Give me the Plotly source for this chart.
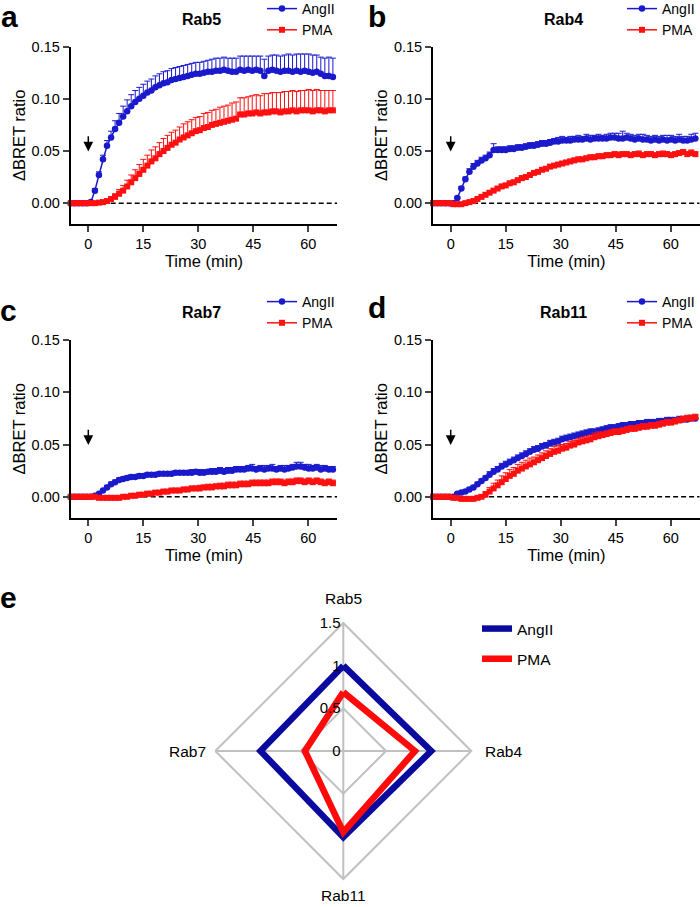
import plotly.graph_objects as go

# ---------------- data ----------------
time_min = [
    -4.8, -3.7, -2.6, -1.5, -0.4, 0.7, 1.8, 2.9, 4.0, 5.1, 6.2,
    7.3, 8.4, 9.5, 10.6, 11.7, 12.8, 13.9, 15.0, 16.1, 17.2, 18.3,
    19.4, 20.5, 21.6, 22.7, 23.8, 24.9, 26.0, 27.1, 28.2, 29.3, 30.4,
    31.5, 32.6, 33.7, 34.8, 35.9, 37.0, 38.1, 39.2, 40.3, 41.4, 42.5,
    43.6, 44.7, 45.8, 46.9, 48.0, 49.1, 50.2, 51.3, 52.4, 53.5, 54.6,
    55.7, 56.8, 57.9, 59.0, 60.1, 61.2, 62.3, 63.4, 64.5, 65.6, 66.7,
]

# Rab5
rab5_angii = [
    0.000, 0.000, 0.000, 0.000, 0.000, 0.001, 0.012, 0.027, 0.042, 0.055, 0.063,
    0.071, 0.077, 0.083, 0.088, 0.093, 0.097, 0.100, 0.103, 0.106, 0.108, 0.111,
    0.113, 0.115, 0.116, 0.118, 0.119, 0.120, 0.121, 0.122, 0.123, 0.124, 0.124,
    0.125, 0.126, 0.126, 0.127, 0.127, 0.128, 0.127, 0.126, 0.126, 0.128, 0.127,
    0.128, 0.127, 0.128, 0.127, 0.122, 0.127, 0.128, 0.127, 0.126, 0.127, 0.127,
    0.126, 0.127, 0.126, 0.127, 0.126, 0.125, 0.126, 0.124, 0.122, 0.122, 0.121,
]
rab5_angii_sem = [
    0.000, 0.000, 0.000, 0.000, 0.000, 0.001, 0.002, 0.003, 0.004, 0.005, 0.006,
    0.008, 0.009, 0.010, 0.011, 0.011, 0.011, 0.011, 0.011, 0.011, 0.011, 0.011,
    0.011, 0.011, 0.011, 0.011, 0.011, 0.011, 0.011, 0.011, 0.011, 0.011, 0.011,
    0.011, 0.011, 0.012, 0.012, 0.012, 0.012, 0.012, 0.013, 0.013, 0.013, 0.014,
    0.013, 0.014, 0.013, 0.014, 0.016, 0.014, 0.014, 0.015, 0.015, 0.015, 0.016,
    0.016, 0.016, 0.017, 0.016, 0.017, 0.017, 0.016, 0.016, 0.017, 0.018, 0.018,
]
rab5_pma = [
    0.000, 0.000, 0.000, 0.000, 0.000, 0.000, 0.000, 0.0005, 0.001, 0.002, 0.004,
    0.006, 0.009, 0.012, 0.016, 0.020, 0.024, 0.028, 0.032, 0.036, 0.040, 0.043,
    0.047, 0.050, 0.053, 0.056, 0.058, 0.061, 0.063, 0.065, 0.067, 0.069, 0.070,
    0.072, 0.073, 0.075, 0.076, 0.077, 0.078, 0.079, 0.080, 0.081, 0.085, 0.085,
    0.086, 0.086, 0.087, 0.086, 0.087, 0.087, 0.088, 0.088, 0.087, 0.088, 0.088,
    0.089, 0.088, 0.089, 0.089, 0.089, 0.088, 0.089, 0.089, 0.088, 0.089, 0.089,
]
rab5_pma_sem = [
    0.000, 0.000, 0.000, 0.000, 0.000, 0.000, 0.000, 0.000, 0.001, 0.001, 0.002,
    0.003, 0.004, 0.005, 0.006, 0.007, 0.008, 0.009, 0.010, 0.010, 0.011, 0.011,
    0.011, 0.012, 0.012, 0.012, 0.012, 0.012, 0.013, 0.013, 0.013, 0.013, 0.013,
    0.014, 0.014, 0.014, 0.014, 0.015, 0.015, 0.015, 0.016, 0.016, 0.016, 0.016,
    0.016, 0.017, 0.017, 0.017, 0.018, 0.018, 0.018, 0.018, 0.019, 0.019, 0.019,
    0.019, 0.019, 0.019, 0.019, 0.020, 0.020, 0.020, 0.019, 0.020, 0.019, 0.019,
]

# Rab4
rab4_angii = [
    0.000, 0.000, 0.000, 0.000, 0.000, 0.000, 0.005, 0.014, 0.023, 0.030, 0.035,
    0.038, 0.041, 0.043, 0.046, 0.051, 0.051, 0.051, 0.051, 0.052, 0.052, 0.053,
    0.053, 0.054, 0.055, 0.055, 0.056, 0.057, 0.057, 0.058, 0.059, 0.059, 0.060,
    0.060, 0.060, 0.061, 0.061, 0.061, 0.062, 0.061, 0.062, 0.062, 0.062, 0.062,
    0.063, 0.063, 0.062, 0.062, 0.063, 0.062, 0.061, 0.062, 0.061, 0.061, 0.060,
    0.061, 0.060, 0.061, 0.060, 0.061, 0.060, 0.061, 0.060, 0.060, 0.061, 0.062,
]
rab4_angii_sem = [
    0.000, 0.000, 0.000, 0.000, 0.000, 0.000, 0.001, 0.002, 0.002, 0.003, 0.003,
    0.003, 0.003, 0.003, 0.003, 0.006, 0.003, 0.003, 0.003, 0.003, 0.003, 0.003,
    0.003, 0.003, 0.003, 0.003, 0.003, 0.003, 0.003, 0.003, 0.003, 0.004, 0.004,
    0.003, 0.004, 0.003, 0.004, 0.003, 0.004, 0.004, 0.003, 0.004, 0.003, 0.004,
    0.004, 0.004, 0.005, 0.007, 0.004, 0.004, 0.004, 0.004, 0.005, 0.004, 0.004,
    0.004, 0.004, 0.004, 0.005, 0.004, 0.004, 0.005, 0.004, 0.004, 0.005, 0.005,
]
rab4_pma = [
    0.000, 0.000, 0.000, 0.000, 0.000, -0.001, -0.001, -0.001, 0.000, 0.001, 0.002,
    0.004, 0.006, 0.008, 0.010, 0.012, 0.014, 0.016, 0.017, 0.019, 0.020, 0.022,
    0.024, 0.025, 0.027, 0.029, 0.030, 0.032, 0.033, 0.035, 0.036, 0.037, 0.038,
    0.039, 0.040, 0.041, 0.042, 0.042, 0.043, 0.044, 0.044, 0.045, 0.045, 0.046,
    0.046, 0.047, 0.046, 0.047, 0.047, 0.046, 0.047, 0.047, 0.046, 0.047, 0.047,
    0.046, 0.047, 0.047, 0.047, 0.046, 0.047, 0.048, 0.049, 0.047, 0.048, 0.047,
]
rab4_pma_sem = [
    0.000, 0.000, 0.000, 0.000, 0.000, 0.000, 0.000, 0.001, 0.001, 0.001, 0.001,
    0.001, 0.001, 0.002, 0.002, 0.002, 0.002, 0.002, 0.002, 0.002, 0.002, 0.002,
    0.002, 0.002, 0.002, 0.002, 0.002, 0.002, 0.002, 0.002, 0.002, 0.002, 0.002,
    0.002, 0.002, 0.002, 0.002, 0.002, 0.002, 0.002, 0.002, 0.002, 0.002, 0.002,
    0.002, 0.002, 0.003, 0.002, 0.002, 0.002, 0.002, 0.003, 0.002, 0.002, 0.002,
    0.002, 0.002, 0.003, 0.002, 0.002, 0.002, 0.002, 0.002, 0.002, 0.003, 0.002,
]

# Rab7
rab7_angii = [
    0.000, 0.000, 0.000, 0.000, 0.000, 0.000, 0.001, 0.003, 0.006, 0.009, 0.012,
    0.014, 0.016, 0.017, 0.018, 0.019, 0.019, 0.020, 0.020, 0.021, 0.021, 0.021,
    0.022, 0.022, 0.022, 0.022, 0.023, 0.023, 0.023, 0.023, 0.023, 0.024, 0.023,
    0.023, 0.024, 0.024, 0.024, 0.025, 0.024, 0.025, 0.025, 0.026, 0.026, 0.026,
    0.027, 0.027, 0.026, 0.027, 0.026, 0.027, 0.027, 0.026, 0.027, 0.026, 0.027,
    0.028, 0.029, 0.029, 0.028, 0.027, 0.027, 0.028, 0.026, 0.027, 0.026, 0.026,
]
rab7_angii_sem = [
    0.000, 0.000, 0.000, 0.000, 0.000, 0.000, 0.000, 0.001, 0.001, 0.002, 0.002,
    0.002, 0.002, 0.002, 0.002, 0.002, 0.002, 0.002, 0.002, 0.002, 0.002, 0.002,
    0.002, 0.002, 0.002, 0.002, 0.002, 0.002, 0.002, 0.002, 0.003, 0.002, 0.003,
    0.003, 0.002, 0.003, 0.003, 0.003, 0.003, 0.003, 0.003, 0.003, 0.003, 0.003,
    0.003, 0.004, 0.003, 0.003, 0.004, 0.003, 0.004, 0.003, 0.003, 0.004, 0.003,
    0.003, 0.004, 0.004, 0.003, 0.004, 0.003, 0.003, 0.004, 0.003, 0.003, 0.003,
]
rab7_pma = [
    0.000, 0.000, 0.000, 0.000, 0.000, 0.000, 0.000, -0.001, -0.001, -0.001, -0.001,
    -0.001, -0.001, 0.000, 0.000, 0.001, 0.001, 0.002, 0.002, 0.003, 0.003, 0.004,
    0.004, 0.005, 0.005, 0.006, 0.006, 0.006, 0.007, 0.007, 0.008, 0.008, 0.008,
    0.009, 0.009, 0.009, 0.010, 0.010, 0.010, 0.011, 0.011, 0.011, 0.012, 0.012,
    0.012, 0.013, 0.013, 0.013, 0.013, 0.013, 0.014, 0.014, 0.014, 0.013, 0.014,
    0.014, 0.015, 0.015, 0.014, 0.015, 0.014, 0.015, 0.014, 0.013, 0.014, 0.013,
]
rab7_pma_sem = [
    0.000, 0.000, 0.000, 0.000, 0.000, 0.000, 0.000, 0.001, 0.001, 0.001, 0.001,
    0.001, 0.001, 0.001, 0.002, 0.002, 0.002, 0.002, 0.002, 0.002, 0.002, 0.002,
    0.002, 0.002, 0.002, 0.002, 0.002, 0.002, 0.002, 0.002, 0.002, 0.002, 0.003,
    0.002, 0.003, 0.003, 0.002, 0.003, 0.003, 0.003, 0.003, 0.003, 0.003, 0.003,
    0.003, 0.003, 0.003, 0.003, 0.003, 0.003, 0.003, 0.003, 0.003, 0.003, 0.003,
    0.003, 0.003, 0.003, 0.003, 0.003, 0.003, 0.003, 0.003, 0.003, 0.003, 0.003,
]

# Rab11
rab11_angii = [
    0.000, 0.000, 0.000, 0.000, 0.000, 0.000, 0.003, 0.004, 0.005, 0.007, 0.009,
    0.012, 0.015, 0.018, 0.021, 0.024, 0.026, 0.029, 0.031, 0.033, 0.035, 0.037,
    0.039, 0.041, 0.043, 0.045, 0.046, 0.048, 0.049, 0.051, 0.052, 0.053, 0.055,
    0.056, 0.057, 0.058, 0.059, 0.060, 0.061, 0.062, 0.062, 0.063, 0.064, 0.065,
    0.066, 0.066, 0.067, 0.068, 0.068, 0.069, 0.069, 0.070, 0.070, 0.071, 0.071,
    0.071, 0.072, 0.072, 0.073, 0.073, 0.073, 0.074, 0.074, 0.074, 0.075, 0.075,
]
rab11_angii_sem = [
    0.000, 0.000, 0.000, 0.000, 0.000, 0.000, 0.001, 0.001, 0.001, 0.002, 0.002,
    0.002, 0.002, 0.002, 0.003, 0.003, 0.003, 0.003, 0.003, 0.003, 0.003, 0.003,
    0.003, 0.003, 0.003, 0.003, 0.003, 0.003, 0.003, 0.003, 0.003, 0.003, 0.003,
    0.003, 0.003, 0.003, 0.003, 0.003, 0.003, 0.003, 0.003, 0.003, 0.003, 0.003,
    0.003, 0.003, 0.003, 0.003, 0.003, 0.003, 0.003, 0.003, 0.003, 0.003, 0.003,
    0.003, 0.003, 0.003, 0.003, 0.003, 0.003, 0.003, 0.003, 0.003, 0.003, 0.003,
]
rab11_pma = [
    0.000, 0.000, 0.000, 0.000, 0.000, -0.001, -0.001, -0.002, -0.002, -0.002, -0.002,
    -0.001, 0.000, 0.002, 0.005, 0.008, 0.011, 0.014, 0.017, 0.020, 0.022, 0.025,
    0.027, 0.029, 0.031, 0.033, 0.035, 0.037, 0.039, 0.041, 0.043, 0.044, 0.046,
    0.047, 0.049, 0.050, 0.052, 0.053, 0.054, 0.055, 0.057, 0.058, 0.059, 0.060,
    0.061, 0.062, 0.062, 0.063, 0.064, 0.065, 0.065, 0.066, 0.067, 0.067, 0.068,
    0.068, 0.069, 0.070, 0.071, 0.071, 0.072, 0.073, 0.074, 0.075, 0.075, 0.076,
]
rab11_pma_sem = [
    0.000, 0.000, 0.000, 0.000, 0.000, 0.000, 0.000, 0.001, 0.001, 0.001, 0.001,
    0.001, 0.002, 0.003, 0.004, 0.005, 0.005, 0.006, 0.006, 0.006, 0.006, 0.006,
    0.006, 0.006, 0.006, 0.005, 0.005, 0.005, 0.005, 0.005, 0.005, 0.005, 0.004,
    0.004, 0.004, 0.004, 0.004, 0.004, 0.004, 0.004, 0.004, 0.004, 0.003, 0.003,
    0.003, 0.003, 0.003, 0.003, 0.003, 0.003, 0.003, 0.003, 0.003, 0.003, 0.003,
    0.003, 0.003, 0.003, 0.003, 0.003, 0.003, 0.003, 0.003, 0.003, 0.003, 0.003,
]

# Radar (panel e)
radar_categories = ["Rab5", "Rab4", "Rab11", "Rab7"]
radar_angii = [1.0, 1.03, 1.01, 0.97]
radar_pma = [0.69, 0.84, 0.95, 0.45]
radar_ticks = [0, 0.5, 1.0, 1.5]
radar_ticktext = ["0", "0.5", "1", "1.5"]

panel_titles = ["Rab5", "Rab4", "Rab7", "Rab11"]
panel_letters = ["a", "b", "c", "d", "e"]
y_tickvals = [0.0, 0.05, 0.10, 0.15]
y_ticktext = ["0.00", "0.05", "0.10", "0.15"]
x_tickvals = [0, 15, 30, 45, 60]
stim_time = 0

# ---------------- styling ----------------
BLUE = "#1a1acc"
RED = "#ff1010"
RADAR_BLUE = "#0a0a9e"
RADAR_RED = "#ff0a0a"
GRID = "#c0c0c0"
FONT = "Arial, Liberation Sans, sans-serif"
W, H = 700, 907

def px_x(p):
    return p / W

def px_y(p):
    return 1 - p / H

panels = [
    dict(series=(rab5_angii, rab5_angii_sem, rab5_pma, rab5_pma_sem), xd=(70.7, 337.3), yd=(46.7, 224.0)),
    dict(series=(rab4_angii, rab4_angii_sem, rab4_pma, rab4_pma_sem), xd=(433.1, 699.7), yd=(46.7, 224.0)),
    dict(series=(rab7_angii, rab7_angii_sem, rab7_pma, rab7_pma_sem), xd=(70.7, 337.3), yd=(340.0, 517.7)),
    dict(series=(rab11_angii, rab11_angii_sem, rab11_pma, rab11_pma_sem), xd=(433.1, 699.7), yd=(340.0, 517.7)),
]
legend_pos = [(262, -7), (622, -7), (262, 286), (622, 286)]
title_pos = [(201, 20), (563, 20), (201, 313), (563, 313)]
letter_pos = [(9, 17), (377, 17), (8, 310), (377, 307), (8, 597)]

fig = go.Figure()
layout = dict(
    width=W, height=H, margin=dict(l=0, r=0, t=0, b=0, autoexpand=False),
    paper_bgcolor="white", plot_bgcolor="white",
    font=dict(family=FONT, color="black", size=14),
    showlegend=True,
)
annotations = []
shapes = []
X_RANGE = [-4.8, 67.9]
Y_RANGE = [-0.02, 0.15]

for i, p in enumerate(panels):
    n = i + 1
    xa = "x" if n == 1 else f"x{n}"
    ya = "y" if n == 1 else f"y{n}"
    lg = "legend" if n == 1 else f"legend{n}"
    a_val, a_err, p_val, p_err = p["series"]
    for name, vals, errs, color, symbol in [
        ("AngII", a_val, a_err, BLUE, "circle"),
        ("PMA", p_val, p_err, RED, "square"),
    ]:
        fig.add_trace(go.Scatter(
            x=time_min, y=vals, name=name, mode="lines+markers",
            xaxis=xa, yaxis=ya, legend=lg, cliponaxis=False,
            line=dict(color=color, width=1.5),
            marker=dict(color=color, size=6.5 if symbol == "circle" else 6, symbol=symbol),
            error_y=dict(type="data", symmetric=False, array=errs,
                         arrayminus=[0] * len(errs), color=color,
                         thickness=1, width=3),
        ))
    xkey = "xaxis" if n == 1 else f"xaxis{n}"
    ykey = "yaxis" if n == 1 else f"yaxis{n}"
    layout[xkey] = dict(
        domain=[px_x(p["xd"][0]), px_x(p["xd"][1])], anchor=ya,
        range=X_RANGE, tickvals=x_tickvals, ticks="outside", ticklen=6,
        tickwidth=2, showline=True, linewidth=2, linecolor="black",
        showgrid=False, zeroline=False, tickfont=dict(size=14.5),
        title=dict(text="Time (min)", font=dict(size=16.5), standoff=3),
    )
    layout[ykey] = dict(
        domain=[px_y(p["yd"][1]), px_y(p["yd"][0])], anchor=xa,
        range=Y_RANGE, tickvals=y_tickvals, ticktext=y_ticktext,
        ticks="outside", ticklen=6, tickwidth=2, showline=True,
        linewidth=2, linecolor="black", showgrid=False, zeroline=False,
        tickfont=dict(size=14.5),
        title=dict(text="ΔBRET ratio", font=dict(size=16.5), standoff=2),
    )
    lx, ly = legend_pos[i]
    layout[lg] = dict(
        x=px_x(lx), y=px_y(ly), xanchor="left", yanchor="top",
        bgcolor="rgba(0,0,0,0)", font=dict(size=14), tracegroupgap=0,
        itemclick=False,
    )
    shapes.append(dict(type="line", xref=xa, yref=ya, x0=X_RANGE[0], x1=X_RANGE[1],
                       y0=0, y1=0, layer="below",
                       line=dict(color="black", width=1.5, dash="5px,3px")))
    annotations.append(dict(x=stim_time, y=0.0495, ax=stim_time, ay=0.0655,
                            xref=xa, yref=ya, axref=xa, ayref=ya,
                            showarrow=True, arrowhead=2, arrowsize=1.3,
                            arrowwidth=1.5, arrowcolor="black", text=""))
    tx, ty = title_pos[i]
    annotations.append(dict(text="<b>" + panel_titles[i] + "</b>", x=px_x(tx), y=px_y(ty),
                            xref="paper", yref="paper", showarrow=False,
                            font=dict(size=16), xanchor="center", yanchor="middle"))

for j, letter in enumerate(panel_letters):
    lx, ly = letter_pos[j]
    annotations.append(dict(text="<b>" + letter + "</b>", x=px_x(lx), y=px_y(ly),
                            xref="paper", yref="paper", showarrow=False,
                            font=dict(size=30), xanchor="center", yanchor="middle"))

# radar
cats_closed = radar_categories + radar_categories[:1]
for name, vals, color, grp in [("AngII", radar_angii, RADAR_BLUE, "g1"),
                               ("PMA", radar_pma, RADAR_RED, "g2")]:
    fig.add_trace(go.Scatterpolar(
        r=vals + vals[:1], theta=cats_closed, name=name, mode="lines",
        line=dict(color=color, width=6.5), legend="legend5", legendgroup=grp,
    ))

cx, cy, R = 343.3, 751.0, 128.0
layout["polar"] = dict(
    domain=dict(x=[px_x(cx - R), px_x(cx + R)], y=[px_y(cy + R), px_y(cy - R)]),
    gridshape="linear", bgcolor="white",
    radialaxis=dict(range=[0, 1.5], tickvals=radar_ticks, ticktext=radar_ticktext,
                    angle=90, side="counterclockwise", tickangle=90,
                    showline=False, ticks="", gridcolor=GRID, gridwidth=2,
                    tickfont=dict(size=15)),
    angularaxis=dict(type="category", categoryarray=radar_categories,
                     rotation=90, direction="clockwise", showticklabels=False,
                     showline=True, linecolor=GRID, linewidth=2,
                     gridcolor=GRID, gridwidth=2, ticks=""),
)
label_pos = {"Rab5": (343, 598, "center"), "Rab4": (483, 751, "left"),
             "Rab11": (343, 895, "center"), "Rab7": (208, 751, "right")}
for cat in radar_categories:
    lx, ly, anc = label_pos[cat]
    annotations.append(dict(text=cat, x=px_x(lx), y=px_y(ly), xref="paper", yref="paper",
                            showarrow=False, font=dict(size=15.5),
                            xanchor=anc, yanchor="middle"))

layout["legend5"] = dict(x=px_x(477), y=px_y(612), xanchor="left", yanchor="top",
                         bgcolor="rgba(0,0,0,0)", font=dict(size=15.5),
                         tracegroupgap=7, itemclick=False)

layout["annotations"] = annotations
layout["shapes"] = shapes
fig.update_layout(**layout)
fig.write_html("out.html", config={"displayModeBar": False},
               post_script="document.body.style.margin='0px';")
